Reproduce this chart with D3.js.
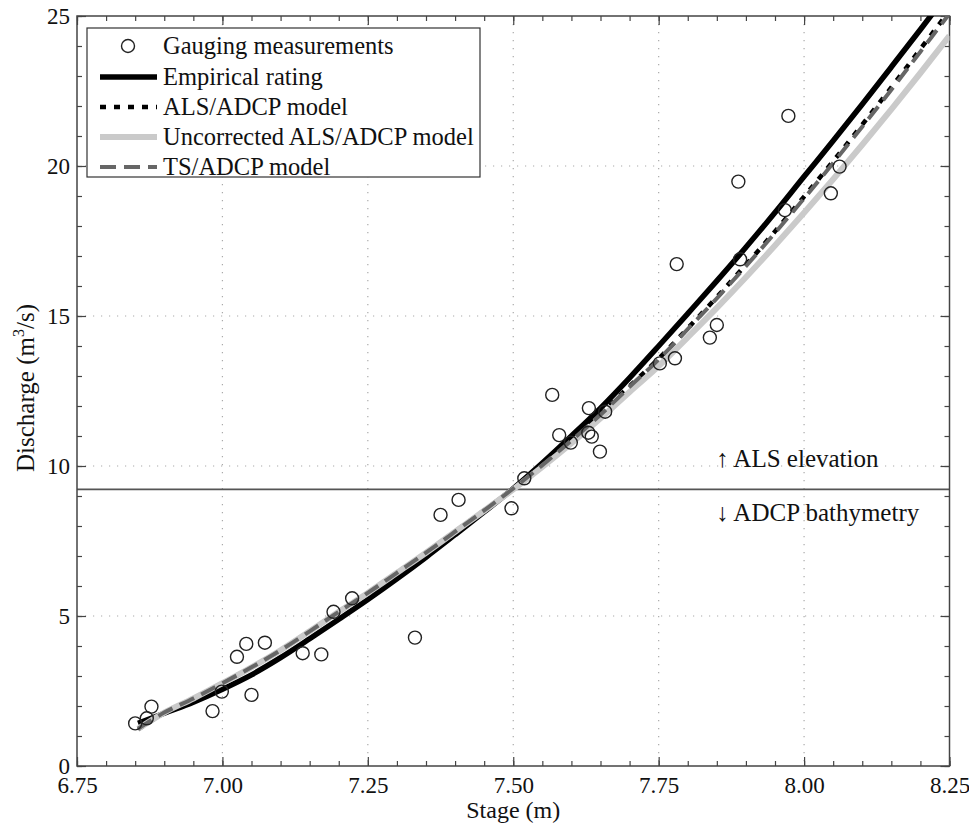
<!DOCTYPE html>
<html>
<head>
<meta charset="utf-8">
<script src="https://cdn.jsdelivr.net/npm/d3@7"></script>
<style>
  body { margin: 0; background: #fff; }
  svg text { font-family: "Liberation Serif", "Times New Roman", serif; fill: #111; }
</style>
</head>
<body>
<svg width="969" height="824"></svg>
<script>
// stage values (m) at which the curves were read
var stage = [6.855, 6.90, 6.95, 7.00, 7.05, 7.10, 7.15, 7.20, 7.25, 7.30, 7.35, 7.40, 7.45, 7.50,
  7.55, 7.60, 7.65, 7.70, 7.75, 7.80, 7.85, 7.90, 7.95, 8.00, 8.05, 8.10, 8.15, 8.20, 8.25];
var empiricalQ = [1.42, 1.76, 2.13, 2.56, 3.04, 3.61, 4.24, 4.89, 5.55, 6.24, 6.96, 7.71, 8.47, 9.25,
  10.10, 11.00, 11.93, 12.94, 14.00, 15.08, 16.17, 17.29, 18.45, 19.65, 20.84, 22.06, 23.30, 24.55, 25.82];
var alsAdcpQ = [1.22, 1.77, 2.25, 2.76, 3.29, 3.86, 4.49, 5.14, 5.77, 6.44, 7.11, 7.81, 8.52, 9.25,
  10.03, 10.86, 11.73, 12.66, 13.58, 14.59, 15.63, 16.71, 17.82, 18.98, 20.16, 21.38, 22.62, 23.90, 25.18];
var uncorrectedQ = [1.24, 1.78, 2.25, 2.76, 3.29, 3.86, 4.49, 5.14, 5.77, 6.44, 7.11, 7.81, 8.51, 9.22,
  9.97, 10.76, 11.59, 12.47, 13.33, 14.29, 15.27, 16.29, 17.35, 18.44, 19.56, 20.71, 21.89, 23.10, 24.34];
var tsAdcpQ = [1.24, 1.78, 2.25, 2.76, 3.29, 3.86, 4.49, 5.14, 5.77, 6.44, 7.11, 7.81, 8.52, 9.25,
  10.03, 10.85, 11.71, 12.64, 13.55, 14.56, 15.59, 16.66, 17.77, 18.92, 20.10, 21.31, 22.54, 23.81, 25.08];

// gauging measurements
var gaugeStage = [6.850, 6.870, 6.878, 6.983, 6.999, 7.025, 7.041, 7.050, 7.073, 7.138, 7.170, 7.191,
  7.223, 7.331, 7.375, 7.406, 7.497, 7.519, 7.567, 7.579, 7.599, 7.630, 7.629, 7.635, 7.649, 7.658,
  7.752, 7.778, 7.781, 7.838, 7.850, 7.890, 7.887, 7.967, 7.973, 8.046, 8.061];
var gaugeQ = [1.42, 1.59, 1.98, 1.83, 2.48, 3.64, 4.07, 2.37, 4.11, 3.76, 3.72, 5.14,
  5.59, 4.28, 8.37, 8.87, 8.59, 9.59, 12.37, 11.03, 10.78, 11.93, 11.11, 10.98, 10.48, 11.81,
  13.42, 13.59, 16.73, 14.28, 14.70, 16.89, 19.48, 18.53, 21.67, 19.09, 19.98];

var xTicks = [6.75, 7.00, 7.25, 7.50, 7.75, 8.00, 8.25];
var yTicks = [0, 5, 10, 15, 20, 25];
var boundaryQ = 9.22;
var legendLabels = ['Gauging measurements', 'Empirical rating', 'ALS/ADCP model',
  'Uncorrected ALS/ADCP model', 'TS/ADCP model'];

var svg = d3.select('svg');
var pLeft = 77, pTop = 16, pRight = 949.5, pBottom = 766;
var x = d3.scaleLinear().domain([6.75, 8.25]).range([pLeft, pRight]);
var y = d3.scaleLinear().domain([0, 25]).range([pBottom, pTop]);
var axisColor = '#444';

svg.append('defs').append('clipPath').attr('id', 'plotclip')
  .append('rect').attr('x', pLeft).attr('y', pTop).attr('width', pRight - pLeft).attr('height', pBottom - pTop);

// dotted grid
var grid = svg.append('g').attr('stroke', '#aaa').attr('stroke-width', 1.2).attr('stroke-dasharray', '1.2,6.8');
grid.selectAll('.vg').data(xTicks.slice(1, -1)).enter().append('line')
  .attr('x1', function (d) { return x(d); }).attr('x2', function (d) { return x(d); })
  .attr('y1', pTop).attr('y2', pBottom);
grid.selectAll('.hg').data(yTicks.slice(1, -1)).enter().append('line')
  .attr('y1', function (d) { return y(d); }).attr('y2', function (d) { return y(d); })
  .attr('x1', pLeft).attr('x2', pRight);

// ALS / ADCP boundary
svg.append('line').attr('x1', pLeft).attr('x2', pRight)
  .attr('y1', y(boundaryQ)).attr('y2', y(boundaryQ))
  .attr('stroke', '#555').attr('stroke-width', 1.8);

// axes, ticks pointing inward
var xMinor = d3.range(6.75, 8.2501, 0.05);
var yMinor = d3.range(0, 25.001, 1);
function styleAxis(g) {
  g.select('.domain').remove();
  g.selectAll('line').attr('stroke', axisColor).attr('stroke-width', 1.2);
  g.selectAll('text').attr('font-family', '"Liberation Serif", serif').attr('font-size', 23).attr('fill', '#111');
}
svg.append('g').attr('transform', 'translate(0,' + pBottom + ')')
  .call(d3.axisBottom(x).tickValues(xMinor).tickSize(-5).tickFormat('')).call(styleAxis);
svg.append('g').attr('transform', 'translate(0,' + pBottom + ')')
  .call(d3.axisBottom(x).tickValues(xTicks).tickSize(-9).tickPadding(10.5).tickFormat(d3.format('.2f'))).call(styleAxis);
svg.append('g').attr('transform', 'translate(0,' + pTop + ')')
  .call(d3.axisTop(x).tickValues(xMinor).tickSize(-5).tickFormat('')).call(styleAxis);
svg.append('g').attr('transform', 'translate(0,' + pTop + ')')
  .call(d3.axisTop(x).tickValues(xTicks).tickSize(-9).tickFormat('')).call(styleAxis);
svg.append('g').attr('transform', 'translate(' + pLeft + ',0)')
  .call(d3.axisLeft(y).tickValues(yMinor).tickSize(-5).tickFormat('')).call(styleAxis);
svg.append('g').attr('transform', 'translate(' + pLeft + ',0)')
  .call(d3.axisLeft(y).tickValues(yTicks).tickSize(-9).tickPadding(7).tickFormat(d3.format('d'))).call(styleAxis);
svg.append('g').attr('transform', 'translate(' + pRight + ',0)')
  .call(d3.axisRight(y).tickValues(yMinor).tickSize(-5).tickFormat('')).call(styleAxis);
svg.append('g').attr('transform', 'translate(' + pRight + ',0)')
  .call(d3.axisRight(y).tickValues(yTicks).tickSize(-9).tickFormat('')).call(styleAxis);

svg.append('rect').attr('x', pLeft).attr('y', pTop).attr('width', pRight - pLeft).attr('height', pBottom - pTop)
  .attr('fill', 'none').attr('stroke', axisColor).attr('stroke-width', 1.5);

// curves
var styles = [
  { q: empiricalQ, color: '#000', width: 5.5, dash: null },
  { q: alsAdcpQ, color: '#000', width: 4.5, dash: '6,8' },
  { q: uncorrectedQ, color: '#cacaca', width: 6, dash: null },
  { q: tsAdcpQ, color: '#666', width: 4, dash: '16,8' }
];
var line = d3.line()
  .x(function (d) { return x(d[0]); })
  .y(function (d) { return y(d[1]); })
  .curve(d3.curveMonotoneX);
var curves = svg.append('g').attr('clip-path', 'url(#plotclip)');
styles.forEach(function (s) {
  curves.append('path')
    .datum(d3.zip(stage, s.q))
    .attr('d', line)
    .attr('fill', 'none')
    .attr('stroke', s.color)
    .attr('stroke-width', s.width)
    .attr('stroke-dasharray', s.dash);
});

// measurements
svg.append('g').selectAll('circle').data(d3.zip(gaugeStage, gaugeQ)).enter().append('circle')
  .attr('cx', function (d) { return x(d[0]); })
  .attr('cy', function (d) { return y(d[1]); })
  .attr('r', 6.5)
  .attr('fill', 'none').attr('stroke', '#222').attr('stroke-width', 1.4);

// annotations
svg.append('text').attr('x', 716).attr('y', 467).attr('font-size', 25).text('\u2191 ALS elevation');
svg.append('text').attr('x', 716).attr('y', 521).attr('font-size', 25).text('\u2193 ADCP bathymetry');

// axis titles
svg.append('text').attr('x', (pLeft + pRight) / 2).attr('y', 818).attr('text-anchor', 'middle')
  .attr('font-size', 24).text('Stage (m)');
var yl = svg.append('text').attr('transform', 'translate(34,388) rotate(-90)')
  .attr('text-anchor', 'middle').attr('font-size', 25);
yl.append('tspan').text('Discharge (m');
yl.append('tspan').attr('dy', -10).attr('font-size', 16).text('3');
yl.append('tspan').attr('dy', 10).text('/s)');

// legend
var lg = svg.append('g');
lg.append('rect').attr('x', 87).attr('y', 28).attr('width', 393).attr('height', 149)
  .attr('fill', '#fff').attr('stroke', '#333').attr('stroke-width', 1.2);
var rowY = [46, 77, 107, 137, 167];
legendLabels.forEach(function (label, i) {
  var ry = rowY[i];
  if (i === 0) {
    lg.append('circle').attr('cx', 128).attr('cy', ry).attr('r', 6.5)
      .attr('fill', 'none').attr('stroke', '#222').attr('stroke-width', 1.4);
  } else {
    var s = styles[i - 1];
    lg.append('line').attr('x1', 100).attr('x2', 157).attr('y1', ry).attr('y2', ry)
      .attr('stroke', s.color).attr('stroke-width', s.width).attr('stroke-dasharray', s.dash);
  }
  lg.append('text').attr('x', 163).attr('y', ry + 8).attr('font-size', 24.5).text(label);
});
</script>
</body>
</html>
